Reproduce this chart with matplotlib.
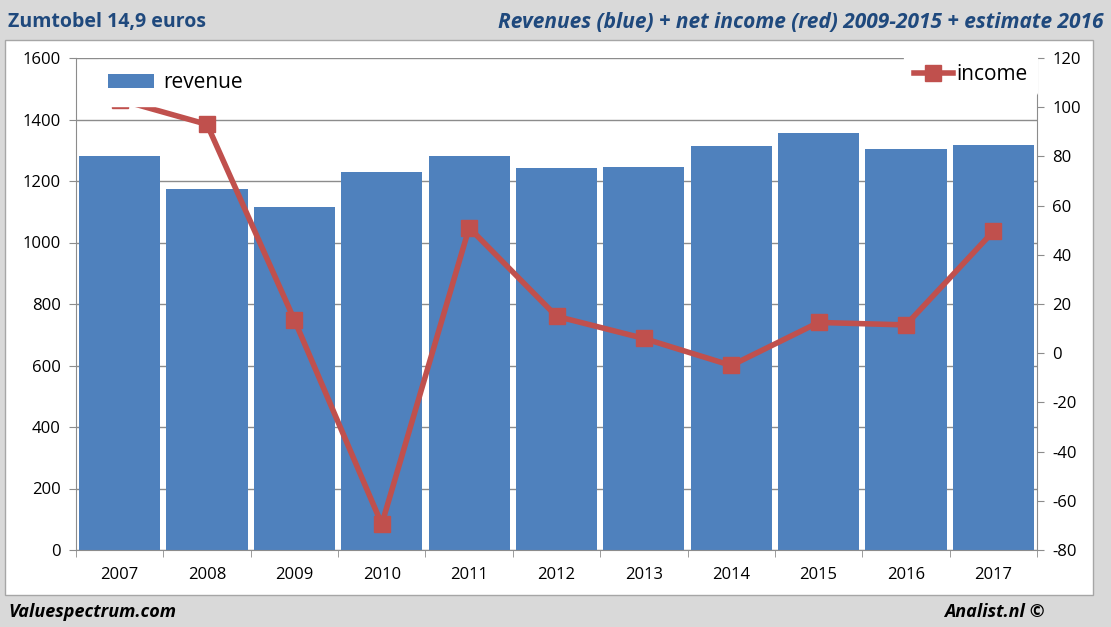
import numpy as np
import matplotlib.pyplot as plt
from matplotlib.patches import Rectangle

years = ['2007', '2008', '2009', '2010', '2011', '2012', '2013', '2014', '2015', '2016', '2017']
revenue = [1281, 1174, 1115, 1229, 1281, 1242, 1245, 1314, 1356, 1304, 1317]
income = [103, 93, 13.5, -69.5, 51, 15, 6, -5, 12.5, 11.5, 49.5]

plt.rcParams['font.family'] = ['Open Sans', 'DejaVu Sans']
plt.rcParams['axes.unicode_minus'] = False

blue = '#4f81bd'
red = '#c0504d'
grey = '#8c8c8c'

fig = plt.figure(figsize=(11.11, 6.27), dpi=100)
fig.patch.set_facecolor('#d9d9d9')

# white chart panel
panel = Rectangle((5 / 1111, 1 - 595 / 627), 1088 / 1111, 555 / 627,
                  transform=fig.transFigure, facecolor='white',
                  edgecolor='#a6a6a6', lw=1, zorder=-5)
fig.patches.append(panel)

ax = fig.add_axes([76 / 1111, 1 - 550 / 627, 961 / 1111, 492 / 627])
ax.set_facecolor('none')
x = np.arange(len(years))
ax.bar(x, revenue, width=0.93, color=blue, label='revenue', zorder=2)
ax.set_xlim(-0.5, len(years) - 0.5)
ax.set_ylim(0, 1600)
ax.set_yticks(range(0, 1601, 200))
ax.yaxis.grid(True, color=grey, lw=1)
ax.set_axisbelow(True)
ax.set_xticks(x)
ax.set_xticklabels(years)
ax.set_xticks(np.arange(-0.5, len(years), 1), minor=True)
ax.tick_params(axis='x', which='major', length=0, pad=12, labelsize=12)
ax.tick_params(axis='x', which='minor', length=5, color=grey)
ax.tick_params(axis='y', length=5, color=grey, labelsize=12, pad=6)
for s in ['top', 'right']:
    ax.spines[s].set_visible(False)
for s in ['left', 'bottom']:
    ax.spines[s].set_color(grey)

ax2 = ax.twinx()
ax2.plot(x, income, color=red, lw=4, marker='s', markersize=11, label='income',
         clip_on=False, zorder=3)
ax2.set_ylim(-80, 120)
ax2.set_yticks(range(-80, 121, 20))
ax2.tick_params(axis='y', length=5, color=grey, labelsize=12, pad=6)
for s in ['top', 'left', 'bottom']:
    ax2.spines[s].set_visible(False)
ax2.spines['right'].set_color(grey)

h1, l1 = ax.get_legend_handles_labels()
h2, l2 = ax2.get_legend_handles_labels()
leg1 = ax2.legend(h1, l1, loc='upper left', bbox_to_anchor=(0.02, 0.996), frameon=True,
                  facecolor='white', edgecolor='white', framealpha=1, fontsize=15,
                  handlelength=2.2, handleheight=0.65, handletextpad=0.45,
                  borderpad=0.6, borderaxespad=0)
leg1.set_zorder(10)
ax2.add_artist(leg1)
leg2 = ax2.legend(h2, l2, loc='upper right', bbox_to_anchor=(1.0, 1.006), frameon=True,
                  facecolor='white', edgecolor='white', framealpha=1, fontsize=15,
                  handlelength=1.9, handletextpad=0.15, borderpad=0.45, borderaxespad=0)
leg2.set_zorder(10)

navy = '#1f497d'
fig.text(8 / 1111, 1 - 22 / 627, 'Zumtobel 14,9 euros', color=navy, fontsize=14,
         fontweight='bold', va='center', ha='left')
fig.text(1104 / 1111, 1 - 22 / 627,
         'Revenues (blue) + net income (red) 2009-2015 + estimate 2016',
         color=navy, fontsize=15, fontweight='bold', style='italic', va='center', ha='right')
fig.text(8 / 1111, 1 - 612 / 627, 'Valuespectrum.com', color='black', fontsize=13,
         fontweight='bold', style='italic', va='center', ha='left')
fig.text(1045 / 1111, 1 - 612 / 627, 'Analist.nl \u00a9', color='black', fontsize=13,
         fontweight='bold', style='italic', va='center', ha='right')

fig.savefig('out.png', dpi=100, facecolor=fig.get_facecolor())
